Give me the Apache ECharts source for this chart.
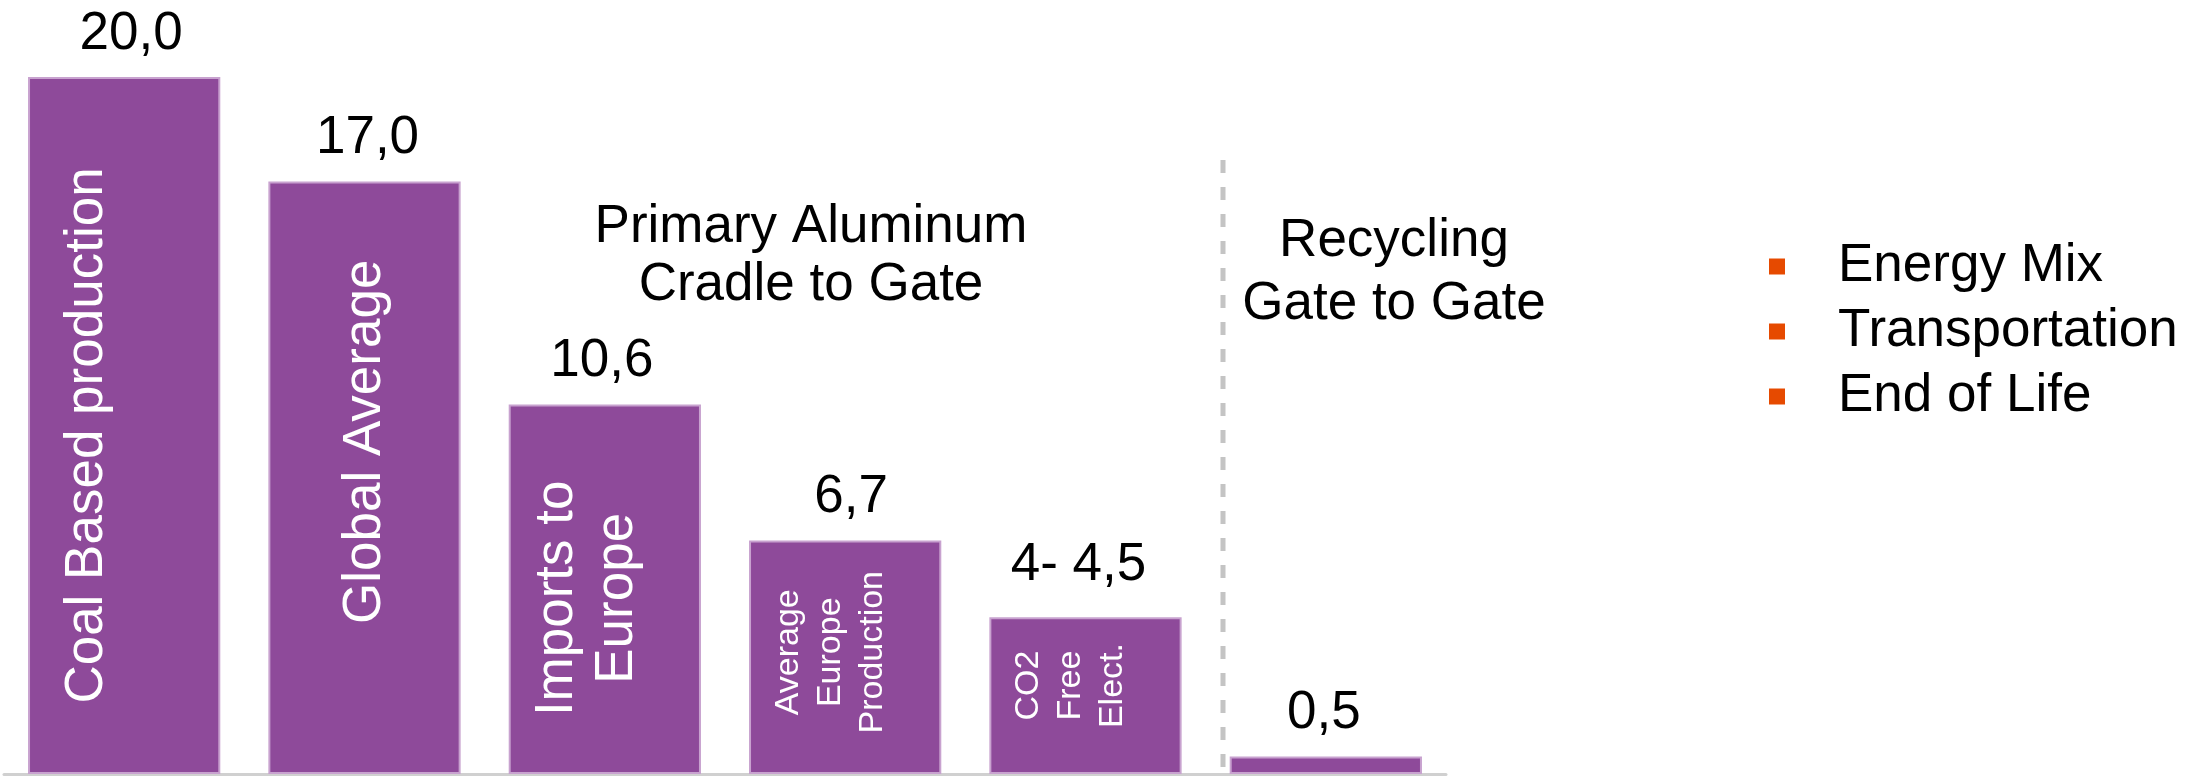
<!DOCTYPE html>
<html>
<head>
<meta charset="utf-8">
<script src="https://cdn.jsdelivr.net/npm/echarts@6/dist/echarts.min.js"></script>
<style>
  html, body { margin: 0; padding: 0; background: #ffffff; }
  #chart { width: 2205px; height: 776px; }
</style>
</head>
<body>
<div id="chart"></div>
<script>
// Carbon footprint by aluminium production route (t CO2 per t aluminium)
const categories = ['Coal Based production', 'Global Average', 'Imports to Europe',
  'Average Europe Production', 'CO2 Free Elect.', 'Recycling'];
const values = [20.0, 17.0, 10.6, 6.7, 4.5, 0.5];
const valueLabels = ['20,0', '17,0', '10,6', '6,7', '4- 4,5', '0,5'];
const barCaptions = ['Coal Based production', 'Global Average', 'Imports to\nEurope',
  'Average\nEurope\nProduction', 'CO2\nFree\nElect.', ''];
const legendNames = ['Energy Mix', 'Transportation', 'End of Life'];
const sectionTitles = ['Primary Aluminum\nCradle to Gate', 'Recycling\nGate to Gate'];

// Styling
const FONT = '"Liberation Sans", Arial, Helvetica, sans-serif';
const BIG = 53;
const PURPLE = '#8E4A9A';
const PURPLE_EDGE = '#C8A2CF';
const ORANGE = '#E64A00';

// caption size and on-screen nudge [dx, dy] (px) for the rotated text inside each bar
const captionStyle = [
  { fontSize: BIG, lineHeight: 60, shift: [-37, 10] },
  { fontSize: BIG, lineHeight: 60, shift: [1, -36] },
  { fontSize: BIG, lineHeight: 60, shift: [-17, 9] },
  { fontSize: 34, lineHeight: 42, shift: [-15, -5] },
  { fontSize: 34, lineHeight: 42, shift: [-15, -10] },
  { fontSize: 34, lineHeight: 42, shift: [0, 0] }
];
// label offsets live in the rotated text frame (rotate 90 => screen [dx, dy] is local [-dy, dx])
const rotatedOffset = s => [-s[1], s[0]];

// nudge (px) for the value label above each bar
const valueLabelShift = [[7, 0], [3, 0], [-3, 0], [6, 0], [-7, -9], [-2, 0]];

const chart = echarts.init(document.getElementById('chart'), null, { renderer: 'canvas' });

const titleStyle = (text, lineHeight) => ({
  text: text,
  font: BIG + 'px ' + FONT,
  lineHeight: lineHeight,
  fill: '#000000',
  align: 'center',
  verticalAlign: 'middle',
  textAlign: 'center',
  textVerticalAlign: 'middle'
});

const option = {
  animation: false,
  backgroundColor: '#ffffff',
  textStyle: { fontFamily: FONT },
  grid: { left: 4, right: 759, top: 77, bottom: 2, containLabel: false },
  xAxis: {
    type: 'category',
    data: categories,
    axisLine: { show: true, lineStyle: { color: '#D0D0D0', width: 3 } },
    axisTick: { show: false },
    axisLabel: { show: false },
    splitLine: { show: false }
  },
  yAxis: {
    type: 'value',
    min: 0,
    max: 20,
    show: false,
    splitLine: { show: false }
  },
  legend: {
    data: legendNames,
    orient: 'vertical',
    left: 1769,
    top: 240,
    padding: 0,
    icon: 'rect',
    itemWidth: 16,
    itemHeight: 16,
    itemGap: 12,
    selectedMode: false,
    textStyle: {
      fontFamily: FONT,
      fontSize: BIG,
      lineHeight: 52,
      color: '#000000',
      padding: [0, 0, 0, 48]
    }
  },
  graphic: [
    { type: 'text', x: 811, y: 256, style: titleStyle(sectionTitles[0], 58) },
    { type: 'text', x: 1394, y: 273, style: titleStyle(sectionTitles[1], 63) },
    {
      // divider between primary production and recycling
      type: 'line',
      shape: { x1: 1223, y1: 160, x2: 1223, y2: 774 },
      style: { stroke: '#C4C4C4', lineWidth: 5, lineDash: [13, 14] },
      z: 1
    }
  ],
  series: [
    {
      name: 'Footprint',
      type: 'bar',
      barWidth: '80%',
      barGap: '-100%',
      silent: true,
      z: 2,
      itemStyle: { color: PURPLE, borderColor: PURPLE_EDGE, borderWidth: 2 },
      label: {
        show: true,
        position: 'inside',
        rotate: 90,
        align: 'center',
        verticalAlign: 'middle',
        color: '#ffffff',
        fontFamily: FONT,
        textBorderWidth: 0,
        formatter: p => barCaptions[p.dataIndex]
      },
      data: values.map((v, i) => ({
        value: v,
        label: {
          fontSize: captionStyle[i].fontSize,
          lineHeight: captionStyle[i].lineHeight,
          offset: rotatedOffset(captionStyle[i].shift)
        }
      }))
    },
    {
      name: 'Value',
      type: 'bar',
      barWidth: '80%',
      barGap: '-100%',
      silent: true,
      z: 3,
      itemStyle: { color: 'rgba(0,0,0,0)' },
      label: {
        show: true,
        position: 'top',
        distance: 17,
        color: '#000000',
        fontFamily: FONT,
        fontSize: BIG,
        lineHeight: 52,
        textBorderWidth: 0,
        formatter: p => valueLabels[p.dataIndex]
      },
      data: values.map((v, i) => ({ value: v, label: { offset: valueLabelShift[i] } }))
    }
  ].concat(legendNames.map(n => ({
    name: n,
    type: 'line',
    data: [],
    itemStyle: { color: ORANGE },
    lineStyle: { color: ORANGE }
  })))
};

chart.setOption(option);
</script>
</body>
</html>
